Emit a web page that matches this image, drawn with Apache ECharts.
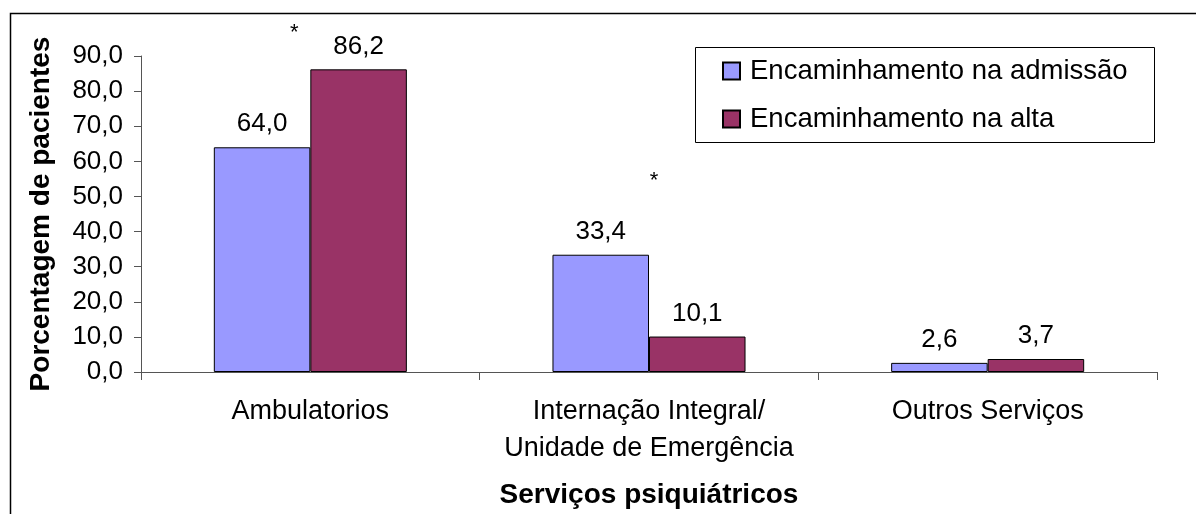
<!DOCTYPE html>
<html lang="pt">
<head>
    <meta charset="UTF-8">
    <title>Serviços psiquiátricos</title>
    <script src="https://cdn.jsdelivr.net/npm/echarts@6/dist/echarts.min.js"></script>
</head>
<style>
    html, body { margin: 0; padding: 0; background: #fff; }
    #container { width: 1196px; height: 514px; }
</style>
<body>
<div id="container"></div>
<script>
    // dados
    var categories = ['Ambulatorios', 'Internação Integral/\nUnidade de Emergência', 'Outros Serviços'];
    var admissao = [64.0, 33.4, 2.6];
    var alta = [86.2, 10.1, 3.7];
    var seriesNames = ['Encaminhamento na admissão', 'Encaminhamento na alta'];
    // asteriscos de significância (categoria, altura no eixo)
    var asteriskCats = [0, 1];
    var asteriskLevels = [96.5, 54.5];

    var font = '"Liberation Sans", Arial, sans-serif';
    var chart = echarts.init(document.getElementById('container'));

    function fmt(v) {
        return Number(v).toFixed(1).replace('.', ',');
    }

    var option = {
        animation: false,
        textStyle: { fontFamily: font },
        grid: { left: 141, right: 39, top: 56, bottom: 142 },
        legend: {
            orient: 'vertical',
            left: 722,
            top: 57,
            padding: 0,
            itemWidth: 17,
            itemHeight: 17,
            itemGap: 20,
            icon: 'rect',
            textStyle: { fontSize: 27.5, color: '#000', fontFamily: font, padding: [0, 0, 0, 5] },
            data: seriesNames
        },
        xAxis: {
            type: 'category',
            data: categories,
            name: 'Serviços psiquiátricos',
            nameLocation: 'middle',
            nameGap: 109,
            nameTextStyle: { fontSize: 28, fontWeight: 'bold', color: '#000', fontFamily: font },
            axisLine: { lineStyle: { color: '#555', width: 1 } },
            axisTick: { show: true, length: 8, lineStyle: { color: '#555' } },
            axisLabel: { interval: 0, hideOverlap: false, fontSize: 27, color: '#000', margin: 21, lineHeight: 37, fontFamily: font }
        },
        yAxis: {
            type: 'value',
            min: 0,
            max: 90,
            interval: 10,
            name: 'Porcentagem de pacientes',
            nameLocation: 'middle',
            nameGap: 86,
            nameTextStyle: { fontSize: 28, fontWeight: 'bold', color: '#000', fontFamily: font },
            axisLine: { show: true, lineStyle: { color: '#555', width: 1 } },
            axisTick: { show: true, length: 7, lineStyle: { color: '#555' } },
            splitLine: { show: false },
            axisLabel: { fontSize: 26, color: '#000', margin: 18, formatter: fmt, fontFamily: font }
        },
        series: [
            {
                name: seriesNames[0],
                type: 'bar',
                data: admissao,
                barGap: '0%',
                barCategoryGap: '43%',
                itemStyle: { color: '#9999FF', borderColor: '#000', borderWidth: 1 },
                label: {
                    show: true, position: 'top', distance: 10,
                    fontSize: 26, color: '#000', fontFamily: font,
                    formatter: function (p) { return fmt(p.value); }
                }
            },
            {
                name: seriesNames[1],
                type: 'bar',
                data: alta,
                itemStyle: { color: '#993366', borderColor: '#000', borderWidth: 1 },
                label: {
                    show: true, position: 'top', distance: 10,
                    fontSize: 26, color: '#000', fontFamily: font,
                    formatter: function (p) { return fmt(p.value); }
                }
            }
        ]
    };

    chart.setOption(option);

    // moldura externa, caixa da legenda e asteriscos
    var graphics = [
        {
            type: 'rect', silent: true,
            shape: { x: 10.5, y: 13.5, width: 1300, height: 700 },
            style: { fill: null, stroke: '#000', lineWidth: 1.5 }
        },
        {
            type: 'rect', silent: true,
            shape: { x: 695.5, y: 47.5, width: 459, height: 95 },
            style: { fill: null, stroke: '#000', lineWidth: 1 }
        }
    ];
    var asteriskShift = [-16, 5];
    for (var i = 0; i < asteriskCats.length; i++) {
        var pt = chart.convertToPixel({ gridIndex: 0 }, [asteriskCats[i], asteriskLevels[i]]);
        graphics.push({
            type: 'text', silent: true,
            x: pt[0] + asteriskShift[i], y: pt[1],
            style: { text: '*', fontSize: 22, fill: '#000', fontFamily: font, align: 'center', verticalAlign: 'middle' }
        });
    }
    chart.setOption({ graphic: graphics });
</script>
</body>
</html>
